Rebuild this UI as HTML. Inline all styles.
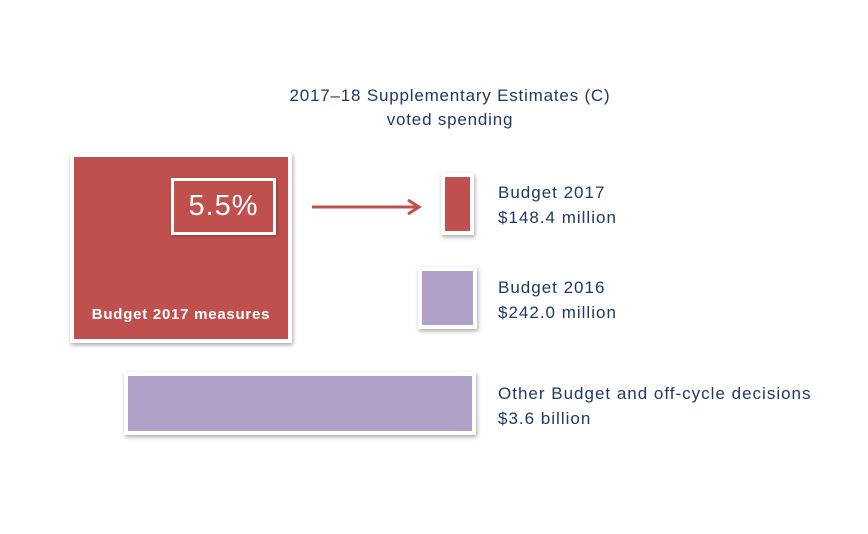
<!DOCTYPE html>
<html><head><meta charset="utf-8"><style>
body{margin:0;background:#fff;}
#c{position:relative;width:868px;height:534px;overflow:hidden;font-family:"Liberation Sans",sans-serif;color:#1f3864;}
.frame{position:absolute;background:#fff;box-shadow:1px 2px 4px rgba(0,0,0,0.35);}
.fill{position:absolute;left:4px;top:4px;right:4px;bottom:4px;}
.lbl{position:absolute;font-size:17px;line-height:25px;white-space:nowrap;letter-spacing:1px;}
</style></head><body>
<div id="c">
<div style="position:absolute;left:250px;top:84px;width:400px;text-align:center;font-size:17px;line-height:24px;letter-spacing:0.8px;">2017–18 Supplementary Estimates (C)<br>voted spending</div>

<div class="frame" style="left:70px;top:153px;width:222px;height:190px;">
 <div class="fill" style="background:#c0504d;"></div>
 <div style="position:absolute;left:101px;top:25px;width:99px;height:51px;border:3px solid #fff;color:#fff;font-size:29px;line-height:51px;text-align:center;letter-spacing:1px;box-shadow:1px 1px 3px rgba(0,0,0,0.3);" id="pct"></div>
 <div style="position:absolute;left:0;width:222px;top:153px;text-align:center;color:#fff;font-weight:bold;font-size:15px;letter-spacing:0.75px;">Budget 2017 measures</div>
</div>

<svg style="position:absolute;left:305px;top:196px" width="120" height="22"><line x1="7" y1="11" x2="113" y2="11" stroke="#c0504d" stroke-width="3"/><polyline points="103,4 114,11 103,18" fill="none" stroke="#c0504d" stroke-width="3"/></svg>

<div class="frame" style="left:441px;top:173px;width:33px;height:62px;"><div class="fill" style="background:#c0504d;"></div></div>
<div class="frame" style="left:418px;top:267px;width:59px;height:62px;"><div class="fill" style="background:#b1a0c7;"></div></div>
<div class="frame" style="left:124px;top:372px;width:352px;height:63px;"><div class="fill" style="background:#b1a0c7;"></div></div>

<div class="lbl" id="l0" style="left:498px;top:180px;"></div>
<div class="lbl" id="l1" style="left:498px;top:275px;"></div>
<div class="lbl" id="l2" style="left:498px;top:381px;"></div>
</div>
<script>
const categories=["Budget 2017","Budget 2016","Other Budget and off-cycle decisions"];
const valueLabels=["$148.4 million","$242.0 million","$3.6 billion"];
const percentLabel="5.5%";
document.getElementById('pct').textContent=percentLabel;
for(let i=0;i<3;i++){document.getElementById('l'+i).innerHTML=categories[i]+'<br>'+valueLabels[i];}
</script>
</body></html>
